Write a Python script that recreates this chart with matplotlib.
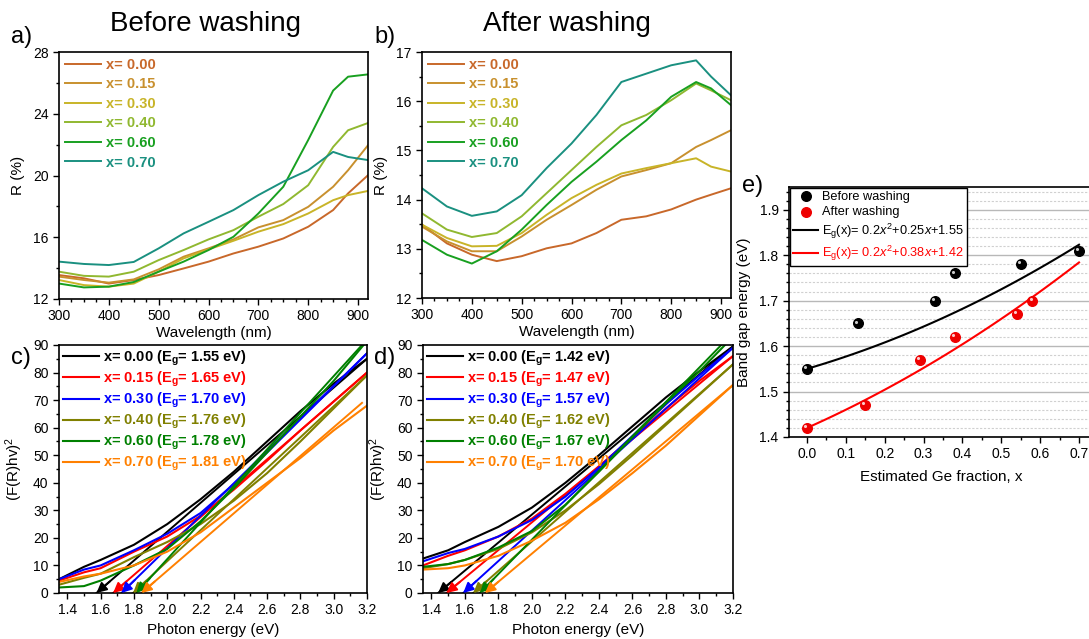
import numpy as np
import matplotlib
matplotlib.use("Agg")
import matplotlib.pyplot as plt
from matplotlib.ticker import MultipleLocator, FormatStrFormatter
from matplotlib.transforms import ScaledTranslation

plt.rcParams['font.family'] = ['Liberation Sans', 'DejaVu Sans']
plt.rcParams['mathtext.fontset'] = 'custom'
plt.rcParams['mathtext.rm'] = 'Liberation Sans'
plt.rcParams['mathtext.it'] = 'Liberation Sans:italic'
plt.rcParams['mathtext.bf'] = 'Liberation Sans:bold'

# ---------------- data ----------------
ge_labels = ["0.00", "0.15", "0.30", "0.40", "0.60", "0.70"]
refl_colors = ['#c8682a', '#c8902e', '#c8b428', '#90b830', '#18a020', '#1a9080']

wl = [300, 350, 400, 450, 500, 550, 600, 650, 700, 750, 800, 850, 880, 920]

# a) before washing, R (%)
Ra_000 = [13.55, 13.34, 13.00, 13.23, 13.55, 13.98, 14.42, 14.95, 15.39, 15.92, 16.68, 17.76, 18.84, 20.02]
Ra_015 = [13.45, 13.23, 13.06, 13.27, 13.92, 14.74, 15.28, 15.86, 16.64, 17.11, 17.97, 19.27, 20.34, 21.96]
Ra_030 = [13.23, 12.90, 12.80, 13.00, 13.77, 14.63, 15.21, 15.77, 16.36, 16.85, 17.54, 18.40, 18.73, 19.00]
Ra_040 = [13.77, 13.50, 13.45, 13.77, 14.52, 15.17, 15.86, 16.46, 17.33, 18.15, 19.37, 21.85, 22.93, 23.40]
Ra_060 = [13.00, 12.75, 12.80, 13.10, 13.77, 14.42, 15.17, 16.03, 17.54, 19.27, 22.30, 25.50, 26.40, 26.55]
Ra_070 = [14.42, 14.27, 14.20, 14.40, 15.28, 16.25, 17.00, 17.76, 18.73, 19.60, 20.34, 21.53, 21.20, 21.00]

# b) after washing, R (%)
Rb_000 = [13.49, 13.11, 12.88, 12.75, 12.85, 13.01, 13.11, 13.32, 13.59, 13.66, 13.80, 14.00, 14.10, 14.23]
Rb_015 = [13.45, 13.15, 12.95, 12.95, 13.25, 13.59, 13.89, 14.20, 14.47, 14.60, 14.74, 15.07, 15.21, 15.41]
Rb_030 = [13.49, 13.22, 13.05, 13.06, 13.32, 13.69, 14.03, 14.30, 14.53, 14.64, 14.74, 14.84, 14.67, 14.57]
Rb_040 = [13.72, 13.39, 13.24, 13.32, 13.66, 14.13, 14.60, 15.07, 15.51, 15.72, 16.02, 16.36, 16.22, 16.02]
Rb_060 = [13.18, 12.88, 12.70, 12.95, 13.39, 13.89, 14.36, 14.77, 15.21, 15.61, 16.09, 16.39, 16.26, 15.92]
Rb_070 = [14.23, 13.86, 13.67, 13.76, 14.09, 14.64, 15.14, 15.72, 16.39, 16.56, 16.73, 16.83, 16.50, 16.12]

Ra = [Ra_000, Ra_015, Ra_030, Ra_040, Ra_060, Ra_070]
Rb = [Rb_000, Rb_015, Rb_030, Rb_040, Rb_060, Rb_070]

# c), d) Tauc plots
tauc_colors = ['#000000', '#ff0000', '#0000ff', '#808000', '#008000', '#ff8000']
eg_before = ["1.55", "1.65", "1.70", "1.76", "1.78", "1.81"]
eg_after = ["1.42", "1.47", "1.57", "1.62", "1.67", "1.70"]

E = [1.35, 1.5, 1.6, 1.8, 2.0, 2.2, 2.4, 2.6, 2.8, 3.0, 3.2]
Tc = [
    [5.0, 9.5, 12.0, 17.5, 25.0, 34.0, 44.0, 55.0, 66.0, 76.0, 85.0],
    [4.5, 7.5, 9.0, 15.0, 20.5, 28.0, 37.5, 48.0, 59.0, 69.5, 80.0],
    [5.0, 8.5, 10.0, 15.5, 21.5, 29.0, 39.5, 51.0, 63.0, 75.0, 87.0],
    [3.0, 5.5, 7.0, 13.0, 18.5, 25.0, 33.5, 43.5, 55.0, 67.0, 79.0],
    [2.0, 2.5, 4.5, 10.0, 16.0, 26.0, 38.0, 51.0, 64.0, 77.0, 91.5],
    [4.0, 6.0, 7.0, 10.0, 15.0, 22.0, 31.0, 40.0, 49.0, 59.0, 68.0],
]
Td = [
    [12.5, 15.5, 18.5, 24.0, 31.0, 40.0, 50.0, 60.5, 71.0, 80.5, 89.5],
    [10.0, 13.5, 15.5, 20.5, 27.0, 36.0, 46.0, 56.5, 67.0, 77.0, 86.0],
    [11.5, 14.5, 16.0, 20.5, 26.5, 35.0, 45.5, 57.0, 68.5, 79.0, 89.0],
    [9.0, 10.5, 12.0, 16.0, 22.0, 30.0, 39.5, 50.0, 61.0, 72.0, 83.0],
    [9.5, 10.5, 12.0, 16.5, 22.5, 32.0, 44.0, 56.5, 69.0, 80.5, 93.0],
    [8.5, 9.0, 10.0, 13.5, 19.0, 25.5, 34.0, 43.5, 53.5, 64.5, 75.5],
]
# tangent lines: x-intercept and end point
tan_c_x0 = [1.575, 1.675, 1.725, 1.795, 1.815, 1.845]
tan_c_x1 = [3.2, 3.2, 3.2, 3.2, 3.17, 3.17]
tan_c_y1 = [85.0, 80.0, 87.0, 79.0, 90.0, 69.0]
tan_d_x0 = [1.44, 1.49, 1.59, 1.65, 1.69, 1.72]
tan_d_x1 = [3.2, 3.2, 3.2, 3.2, 3.13, 3.2]
tan_d_y1 = [89.5, 86.0, 89.0, 83.0, 90.0, 75.5]

# e) band gap vs Ge fraction
x_before = [0.0, 0.13, 0.33, 0.38, 0.55, 0.70]
eg_b_vals = [1.55, 1.65, 1.70, 1.76, 1.78, 1.81]
x_after = [0.0, 0.15, 0.29, 0.38, 0.54, 0.58]
eg_a_vals = [1.42, 1.47, 1.57, 1.62, 1.67, 1.70]
fit_before = [0.2, 0.25, 1.55]
fit_after = [0.2, 0.38, 1.42]

# ---------------- figure ----------------
W, H = 1089, 639
fig = plt.figure(figsize=(W / 100, H / 100), dpi=100)


def pos(l, t, r, b):
    return [l / W, 1 - b / H, (r - l) / W, (b - t) / H]


def style(ax):
    for s in ax.spines.values():
        s.set_linewidth(1.2)
    ax.tick_params(which='both', direction='out', top=False, right=False, labelsize=10, width=1)
    ax.tick_params(which='major', length=4)
    ax.tick_params(which='minor', length=2.5)


def color_legend(leg):
    for t, l in zip(leg.get_texts(), leg.get_lines()):
        t.set_color(l.get_color())


# a)
axa = fig.add_axes(pos(59, 52, 368, 299))
for R, c, lab in zip(Ra, refl_colors, ge_labels):
    axa.plot(wl, R, color=c, lw=1.4, label="x= " + lab)
axa.set_xlim(300, 920)
axa.set_ylim(12, 28)
axa.xaxis.set_major_locator(MultipleLocator(100))
axa.xaxis.set_minor_locator(MultipleLocator(25))
axa.yaxis.set_major_locator(MultipleLocator(4))
axa.yaxis.set_minor_locator(MultipleLocator(2))
axa.set_xlabel("Wavelength (nm)", fontsize=11, labelpad=2)
axa.set_ylabel("R (%)", fontsize=11, labelpad=6)
style(axa)
leg = axa.legend(loc='upper left', frameon=False, prop={'weight': 'bold', 'size': 10.5},
                 handlelength=2.5, handletextpad=0.35, labelspacing=0.38,
                 borderaxespad=0.15, borderpad=0.25)
color_legend(leg)

# b)
axb = fig.add_axes(pos(422, 52, 731, 298))
for R, c, lab in zip(Rb, refl_colors, ge_labels):
    axb.plot(wl, R, color=c, lw=1.4, label="x= " + lab)
axb.set_xlim(300, 920)
axb.set_ylim(12, 17)
axb.xaxis.set_major_locator(MultipleLocator(100))
axb.xaxis.set_minor_locator(MultipleLocator(25))
axb.yaxis.set_major_locator(MultipleLocator(1))
axb.yaxis.set_minor_locator(MultipleLocator(0.5))
axb.set_xlabel("Wavelength (nm)", fontsize=11, labelpad=2)
axb.set_ylabel("R (%)", fontsize=11, labelpad=6)
style(axb)
leg = axb.legend(loc='upper left', frameon=False, prop={'weight': 'bold', 'size': 10.5},
                 handlelength=2.5, handletextpad=0.35, labelspacing=0.38,
                 borderaxespad=0.15, borderpad=0.25)
color_legend(leg)


def tauc(ax, T, x0s, x1s, y1s, egs):
    for Tv, c, lab, eg, x0, x1, y1 in zip(T, tauc_colors, ge_labels, egs, x0s, x1s, y1s):
        ax.plot(E, Tv, color=c, lw=1.5,
                label="x= " + lab + r" (E$_\mathbf{g}$= " + eg + " eV)")
        ax.plot([x0, x1], [0, y1], color=c, lw=1.4)
        slope = y1 / (x1 - x0)
        dx = 0.08
        ax.annotate('', xy=(x0, 0), xytext=(x0 + dx, slope * dx),
                    arrowprops=dict(arrowstyle='-|>', color=c, lw=1.4,
                                    mutation_scale=15, shrinkA=0, shrinkB=0))
    ax.set_xlim(1.35, 3.2)
    ax.set_ylim(0, 90)
    ax.xaxis.set_major_locator(MultipleLocator(0.2))
    ax.xaxis.set_minor_locator(MultipleLocator(0.1))
    ax.xaxis.set_major_formatter(FormatStrFormatter('%.1f'))
    ax.yaxis.set_major_locator(MultipleLocator(10))
    ax.yaxis.set_minor_locator(MultipleLocator(5))
    ax.set_xlabel("Photon energy (eV)", fontsize=11, labelpad=4)
    ax.set_ylabel(r"(F(R)hv)$^2$", fontsize=11, labelpad=6)
    style(ax)
    leg = ax.legend(loc='upper left', frameon=False, prop={'weight': 'bold', 'size': 10.5},
                    handlelength=2.5, handletextpad=0.3, labelspacing=0.12,
                    borderaxespad=0.1, borderpad=0.15)
    color_legend(leg)


axc = fig.add_axes(pos(59, 345, 367, 593))
tauc(axc, Tc, tan_c_x0, tan_c_x1, tan_c_y1, eg_before)
axd = fig.add_axes(pos(423, 345, 733, 593))
tauc(axd, Td, tan_d_x0, tan_d_x1, tan_d_y1, eg_after)

# e)
axe = fig.add_axes(pos(789, 187, 1093, 437))
axe.set_xlim(-0.0463, 0.736)
axe.set_ylim(1.4, 1.95)
axe.set_axisbelow(True)
axe.yaxis.grid(True, which='major', color='#b8b8b8', lw=1.0)
axe.yaxis.grid(True, which='minor', color='#d0d0d0', lw=0.8, ls=(0, (2, 1.5)))
xf = np.linspace(0, 0.7, 100)
axe.plot(xf, np.polyval(fit_before, xf), color='black', lw=1.5,
         label=r"E$_\mathrm{g}$(x)= 0.2$x^2$+0.25$x$+1.55")
axe.plot(xf, np.polyval(fit_after, xf), color='#ff0000', lw=1.5,
         label=r"E$_\mathrm{g}$(x)= 0.2$x^2$+0.38$x$+1.42")
axe.scatter(x_before, eg_b_vals, s=48, color='black', zorder=5, label="Before washing")
axe.scatter(x_after, eg_a_vals, s=48, color='#ee0000', zorder=5, label="After washing")
hl = axe.transData + ScaledTranslation(-1.3 / 72, 1.3 / 72, fig.dpi_scale_trans)
axe.scatter(x_before, eg_b_vals, s=5, color='white', alpha=0.8, zorder=6, transform=hl, lw=0)
axe.scatter(x_after, eg_a_vals, s=5, color='white', alpha=0.8, zorder=6, transform=hl, lw=0)
axe.xaxis.set_major_locator(MultipleLocator(0.1))
axe.xaxis.set_minor_locator(MultipleLocator(0.05))
axe.xaxis.set_major_formatter(FormatStrFormatter('%.1f'))
axe.yaxis.set_major_locator(MultipleLocator(0.1))
axe.yaxis.set_minor_locator(MultipleLocator(0.02))
axe.yaxis.set_major_formatter(FormatStrFormatter('%.1f'))
axe.set_xlabel("Estimated Ge fraction, x", fontsize=11, labelpad=6)
axe.set_ylabel("Band gap energy (eV)", fontsize=11, labelpad=6)
style(axe)
axe.spines['right'].set_visible(False)
h, l = axe.get_legend_handles_labels()
order = [2, 3, 0, 1]
leg = axe.legend([h[i] for i in order], [l[i] for i in order], loc='upper left',
                 fontsize=9.2, frameon=True, fancybox=False, edgecolor='black',
                 framealpha=1, borderaxespad=0.1, borderpad=0.2, handlelength=2.0,
                 handletextpad=0.3, labelspacing=0.26)
leg.get_frame().set_linewidth(1.0)
leg.get_texts()[3].set_color('#ff0000')

# titles and panel labels
fig.text(205 / W, 1 - 24 / H, "Before washing", ha='center', va='center', fontsize=20)
fig.text(567 / W, 1 - 24 / H, "After washing", ha='center', va='center', fontsize=20)
for txt, x, y in [("a)", 11, 37), ("b)", 374, 37), ("c)", 11, 358), ("d)", 374, 358), ("e)", 742, 186)]:
    fig.text(x / W, 1 - y / H, txt, ha='left', va='center', fontsize=17)

fig.savefig("out.png", dpi=100)
